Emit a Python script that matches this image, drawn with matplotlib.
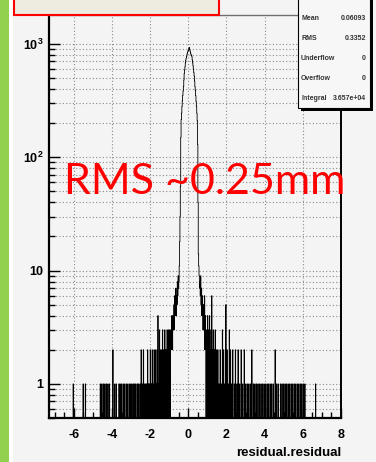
import numpy as np
import matplotlib
matplotlib.use('Agg')
import matplotlib.pyplot as plt
from matplotlib.patches import Rectangle
from matplotlib.ticker import FixedLocator, MultipleLocator, NullFormatter

# histogram settings
x_lo, x_hi, bin_w = -7.30, 8.00, 0.02
y_lo, y_hi = 0.5, 1800

# core of the distribution, bins of 0.02 starting at -0.50
core_start = -0.50
core_n = [8, 11, 18, 30, 55, 150, 215, 245, 280, 315, 350, 385, 420, 480, 550,
          590, 630, 680, 720, 750, 775, 800, 830, 850, 870, 880, 910, 930, 900,
          870, 850, 820, 800, 790, 770, 720, 680, 640, 600, 560, 520, 470, 420,
          390, 350, 310, 280, 245, 210, 130, 40, 14, 11, 9, 7]

# tails: bin centres and counts
left_x = [-0.51, -0.53, -0.55, -0.57, -0.59, -0.61, -0.63, -0.65, -0.67, -0.69,
          -0.71, -0.73, -0.75, -0.77, -0.79, -0.81, -0.83, -0.85, -0.87, -0.89,
          -0.91, -0.93, -0.97, -0.99, -1.03, -1.05, -1.09, -1.11, -1.15, -1.19,
          -1.23, -1.27, -1.31, -1.35, -1.39, -1.43, -1.47, -1.51, -1.55, -1.59,
          -1.63, -1.67, -1.71, -1.75, -1.79, -1.85, -1.89, -1.93, -1.99, -2.03,
          -2.09, -2.13, -2.19, -2.23, -2.29, -2.35, -2.41, -2.47, -2.53, -2.61,
          -2.67, -2.75, -2.81, -2.87, -2.95, -3.01, -3.09, -3.17, -3.25, -3.33,
          -3.41, -3.49, -3.57, -3.63, -3.77, -3.85, -3.95, -4.13, -4.21, -4.29,
          -4.37, -4.45, -4.53, -4.61, -5.39, -5.51, -6.03]
left_n = [7, 9, 6, 8, 5, 6, 4, 7, 5, 4,
          6, 3, 5, 4, 3, 4, 2, 3, 4, 2,
          3, 2, 3, 2, 3, 2, 1, 3, 2, 2,
          3, 1, 2, 3, 2, 1, 2, 3, 1, 4,
          2, 1, 2, 1, 2, 1, 2, 1, 2, 1,
          1, 2, 1, 1, 1, 2, 1, 2, 1, 1,
          1, 1, 1, 1, 1, 1, 1, 1, 1, 1,
          1, 1, 1, 1, 1, 1, 2, 1, 1, 1,
          1, 1, 1, 1, 1, 1, 1]

right_x = [0.61, 0.63, 0.65, 0.67, 0.69, 0.71, 0.73, 0.75, 0.77, 0.79,
           0.81, 0.83, 0.85, 0.87, 0.89, 0.91, 0.95, 0.97, 1.01, 1.03,
           1.07, 1.11, 1.15, 1.19, 1.23, 1.27, 1.31, 1.37, 1.41, 1.45,
           1.49, 1.55, 1.61, 1.67, 1.73, 1.79, 1.85, 1.91, 1.97, 2.03,
           2.09, 2.15, 2.21, 2.27, 2.33, 2.41, 2.47, 2.55, 2.61, 2.69,
           2.77, 2.85, 2.93, 3.01, 3.09, 3.17, 3.25, 3.33, 3.41, 3.49,
           3.57, 3.65, 3.73, 3.81, 3.89, 3.97, 4.05, 4.13, 4.21, 4.29,
           4.37, 4.45, 4.55, 4.63, 4.71, 4.83, 4.91, 4.99, 5.07, 5.15,
           5.23, 5.31, 5.39, 5.47, 5.55, 5.63, 5.71, 5.79, 5.87, 5.95,
           6.03, 6.11, 6.67]
right_n = [8, 6, 9, 5, 7, 4, 6, 5, 3, 5,
           4, 3, 6, 2, 4, 3, 2, 3, 4, 2,
           3, 4, 2, 3, 6, 2, 3, 2, 3, 1,
           2, 2, 1, 2, 1, 3, 2, 1, 5, 2,
           1, 3, 2, 1, 2, 1, 2, 1, 2, 1,
           2, 1, 2, 1, 1, 1, 1, 2, 1, 1,
           1, 1, 1, 1, 1, 1, 1, 1, 1, 1,
           1, 1, 2, 1, 1, 1, 1, 1, 1, 1,
           1, 1, 1, 1, 1, 1, 1, 1, 1, 1,
           1, 1, 1]

x_ticks = [-6, -4, -2, 0, 2, 4, 6, 8]
y_ticks = [1, 10, 100, 1000]
y_labels = ['1', '10', '$10^{2}$', '$10^{3}$']

stat_names = ['Entries', 'Mean', 'RMS', 'Underflow', 'Overflow', 'Integral']
stat_vals = ['3.657e+04', '0.06093', '0.3352', '0', '0', '3.657e+04']

# build bin contents
nbins = int(round((x_hi - x_lo) / bin_w))
edges = x_lo + bin_w * np.arange(nbins + 1)
counts = np.zeros(nbins)
i0 = int(round((core_start - x_lo) / bin_w))
counts[i0:i0 + len(core_n)] = core_n
for xs, ns in ((left_x, left_n), (right_x, right_n)):
    for c, n in zip(xs, ns):
        counts[int(np.floor((c - x_lo) / bin_w))] += n

plt.rcParams['font.family'] = ['Liberation Sans', 'DejaVu Sans']
plt.rcParams['mathtext.fontset'] = 'custom'
plt.rcParams['mathtext.rm'] = 'Liberation Sans:bold'
plt.rcParams['mathtext.it'] = 'Liberation Sans:bold'
plt.rcParams['mathtext.bf'] = 'Liberation Sans:bold'

W, H = 376, 462
fig = plt.figure(figsize=(W / 100, H / 100), dpi=100, facecolor='#f4f4f4')

# slide decorations: green strip on the left
fig.patches.append(Rectangle((0, 0), 9 / W, 1, transform=fig.transFigure,
                             facecolor='#92d050', edgecolor='none', zorder=0))
fig.patches.append(Rectangle((9 / W, 0), 4 / W, 1, transform=fig.transFigure,
                             facecolor='white', edgecolor='none', zorder=0))

ax = fig.add_axes([49 / W, 1 - 418 / H, 292 / W, 403 / H])
ax.set_facecolor('#f4f4f4')
draw = np.where(counts > 0, counts, 1e-3)
ax.stairs(draw, edges, color='black', lw=0.6, baseline=None)

ax.set_yscale('log')
ax.set_xlim(x_lo, x_hi)
ax.set_ylim(y_lo, y_hi)

ax.xaxis.set_major_locator(FixedLocator(x_ticks))
ax.xaxis.set_minor_locator(MultipleLocator(0.5))
ax.set_xticklabels([str(t) for t in x_ticks])
ax.yaxis.set_major_locator(FixedLocator(y_ticks))
ax.set_yticklabels(y_labels)
ax.yaxis.set_minor_formatter(NullFormatter())

ax.tick_params(which='both', direction='in', top=False, right=False,
               labelsize=9, width=1)
ax.tick_params(axis='x', which='major', length=7, pad=8)
ax.tick_params(axis='x', which='minor', length=4)
ax.tick_params(axis='y', which='major', length=8, pad=4)
ax.tick_params(axis='y', which='minor', length=4)
for lab in ax.get_xticklabels() + ax.get_yticklabels():
    lab.set_fontweight('bold')

ax.grid(True, which='major', axis='x', color='#8a8a8a', ls=(0, (1, 2)), lw=0.8)
ax.grid(True, which='both', axis='y', color='#8a8a8a', ls=(0, (1, 2)), lw=0.8)
ax.set_axisbelow(True)

ax.spines['left'].set_linewidth(1.6)
ax.spines['bottom'].set_linewidth(1.6)
ax.spines['right'].set_linewidth(1.4)
ax.spines['top'].set_linewidth(1.0)
ax.spines['top'].set_color('#707070')

fig.text(341 / W, 1 - 453 / H, 'residual.residual', ha='right', va='center',
         fontsize=9.5, fontweight='bold')

fig.text(64 / W, 1 - 194 / H, 'RMS ~0.25mm', ha='left', va='baseline',
         fontsize=31, color='#ff0000', family=['Lato', 'DejaVu Sans'])

# title box cut at the top, beige with red border
fig.patches.append(Rectangle((14 / W, 1 - 15 / H), 205 / W, 30 / H,
                             transform=fig.transFigure, facecolor='#eeebe0',
                             edgecolor='#ff0000', lw=1.5, zorder=5))

# stats box with shadow
fig.patches.append(Rectangle((301 / W, 1 - 111 / H), 72 / W, 130 / H,
                             transform=fig.transFigure, facecolor='black',
                             edgecolor='none', zorder=5))
fig.patches.append(Rectangle((298 / W, 1 - 108 / H), 72 / W, 130 / H,
                             transform=fig.transFigure, facecolor='#f7f7f7',
                             edgecolor='black', lw=0.8, zorder=6))
for k, (name, val) in enumerate(zip(stat_names, stat_vals)):
    yy = 1 - (-2 + 20.1 * k) / H
    fig.text(301 / W, yy, name, ha='left', va='center', fontsize=5,
             fontweight='bold', color='#333333', zorder=7)
    fig.text(366 / W, yy, val, ha='right', va='center', fontsize=5,
             fontweight='bold', color='#333333', zorder=7)

fig.savefig('out.png', dpi=100, facecolor=fig.get_facecolor())
